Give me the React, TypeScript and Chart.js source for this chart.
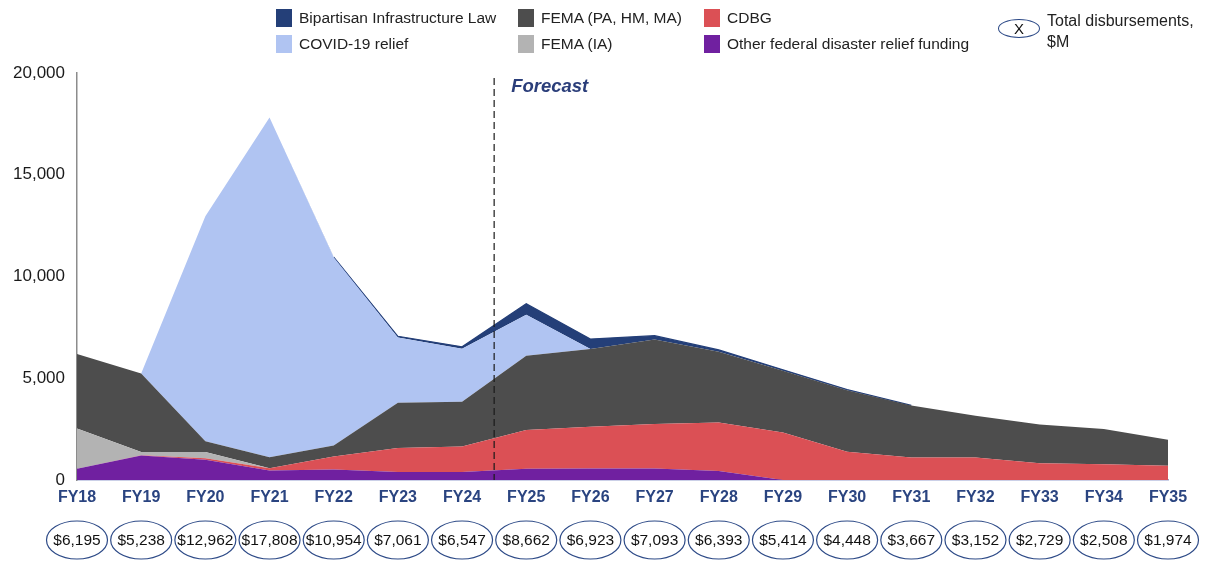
import React, { useEffect, useRef } from "react";
import { Chart, registerables } from "chart.js";

Chart.register(...registerables);

// Fiscal years on the x axis
const years = [
  "FY18", "FY19", "FY20", "FY21", "FY22", "FY23", "FY24", "FY25", "FY26",
  "FY27", "FY28", "FY29", "FY30", "FY31", "FY32", "FY33", "FY34", "FY35",
];

// Disbursements by source, $M (stacked bottom to top)
const otherFederal = [550, 1200, 1000, 470, 520, 390, 390, 550, 560, 560, 440, 0, 0, 0, 0, 0, 0, 0];
const cdbg = [0, 20, 70, 110, 630, 1180, 1260, 1910, 2060, 2190, 2380, 2330, 1390, 1110, 1100, 820, 770, 700];
const femaIA = [1980, 150, 300, 0, 0, 0, 0, 0, 0, 0, 0, 0, 0, 0, 0, 0, 0, 0];
const femaPA = [3665, 3868, 540, 540, 550, 2230, 2200, 3650, 3820, 4160, 3480, 3040, 3020, 2547, 2052, 1909, 1738, 1274];
const covidRelief = [0, 0, 11052, 16688, 9244, 3201, 2597, 2012, 0, 0, 0, 0, 0, 0, 0, 0, 0, 0];
const bipartisanInfra = [0, 0, 0, 0, 10, 60, 100, 540, 483, 183, 93, 44, 38, 10, 0, 0, 0, 0];

// Total disbursements per year, $M
const totals = [6195, 5238, 12962, 17808, 10954, 7061, 6547, 8662, 6923, 7093, 6393, 5414, 4448, 3667, 3152, 2729, 2508, 1974];

const yTicks = [0, 5000, 10000, 15000, 20000];
const forecastStartIndex = 7;

const FONT = "'Liberation Sans', Arial, Helvetica, sans-serif";
const NAVY = "#243f78";
const C_BIL = "#243f78";
const C_FEMA_PA = "#4d4d4d";
const C_CDBG = "#db5055";
const C_COVID = "#b0c4f2";
const C_FEMA_IA = "#b3b3b3";
const C_OTHER = "#7020a0";

const fmt = (v: number) => String(v).replace(/\B(?=(\d{3})+(?!\d))/g, ",");

const legendItems = [
  { label: "Bipartisan Infrastructure Law", color: C_BIL, x: 276, row: 0 },
  { label: "FEMA (PA, HM, MA)", color: C_FEMA_PA, x: 518, row: 0 },
  { label: "CDBG", color: C_CDBG, x: 704, row: 0 },
  { label: "COVID-19 relief", color: C_COVID, x: 276, row: 1 },
  { label: "FEMA (IA)", color: C_FEMA_IA, x: 518, row: 1 },
  { label: "Other federal disaster relief funding", color: C_OTHER, x: 704, row: 1 },
];

const overlayPlugin = {
  id: "totalsAndForecast",
  afterDraw(chart: any) {
    const { ctx, scales } = chart;
    const xs = scales.x;
    const ys = scales.y;
    ctx.save();

    // Forecast divider halfway between FY24 and FY25
    const xDiv = (xs.getPixelForValue(forecastStartIndex - 1) + xs.getPixelForValue(forecastStartIndex)) / 2;
    ctx.strokeStyle = "#1a1a1a";
    ctx.lineWidth = 1.2;
    ctx.setLineDash([7, 4]);
    ctx.beginPath();
    ctx.moveTo(xDiv, ys.top + 5);
    ctx.lineTo(xDiv, ys.bottom);
    ctx.stroke();
    ctx.setLineDash([]);

    ctx.fillStyle = "#2b3e7a";
    ctx.font = `italic bold 18.5px ${FONT}`;
    ctx.textAlign = "left";
    ctx.textBaseline = "middle";
    ctx.fillText("Forecast", xDiv + 17, ys.top + 14);

    // Total disbursement bubbles under each year
    ctx.font = `15.5px ${FONT}`;
    ctx.textAlign = "center";
    totals.forEach((t, i) => {
      const cx = xs.getPixelForValue(i);
      const cy = 540;
      ctx.beginPath();
      ctx.ellipse(cx, cy, 30.5, 19, 0, 0, Math.PI * 2);
      ctx.strokeStyle = "#2d4a87";
      ctx.lineWidth = 1.2;
      ctx.stroke();
      ctx.fillStyle = "#111";
      ctx.fillText("$" + fmt(t), cx, cy + 1);
    });
    ctx.restore();
  },
};

export default function App() {
  const canvasRef = useRef<HTMLCanvasElement | null>(null);

  useEffect(() => {
    if (!canvasRef.current) return;
    const area = (label: string, data: number[], color: string, fill: any, extra: any = {}) => ({
      label,
      data,
      backgroundColor: color,
      borderColor: color,
      borderWidth: 0,
      pointRadius: 0,
      tension: 0,
      fill,
      ...extra,
    });

    const chart = new Chart(canvasRef.current, {
      type: "line",
      data: {
        labels: years,
        datasets: [
          area("Other federal disaster relief funding", otherFederal, C_OTHER, "origin"),
          area("CDBG", cdbg, C_CDBG, "-1"),
          area("FEMA (IA)", femaIA, C_FEMA_IA, "-1"),
          area("FEMA (PA, HM, MA)", femaPA, C_FEMA_PA, "-1"),
          area("COVID-19 relief", covidRelief, C_COVID, "-1"),
          area("Bipartisan Infrastructure Law", bipartisanInfra, C_BIL, "-1", {
            borderWidth: 1.2,
            segment: {
              borderColor: (c: any) =>
                bipartisanInfra[c.p0DataIndex] > 0 && bipartisanInfra[c.p1DataIndex] > 0
                  ? NAVY
                  : "rgba(0,0,0,0)",
            },
          }),
        ],
      },
      options: {
        responsive: false,
        animation: false,
        layout: { padding: { top: 73, right: 38, bottom: 0, left: 0 } },
        plugins: {
          legend: { display: false },
          tooltip: { enabled: false },
        },
        scales: {
          x: {
            type: "category",
            offset: false,
            grid: { display: false, drawTicks: false },
            border: { display: true, color: "#98a2d0", width: 1.5 },
            ticks: {
              color: "#2a4480",
              font: { family: FONT, size: 16, weight: "bold" },
              padding: 8,
              maxRotation: 0,
              autoSkip: false,
            },
            afterFit: (s: any) => {
              s.height = 81;
            },
          },
          y: {
            stacked: true,
            min: 0,
            max: 20000,
            grid: { display: false, drawTicks: false },
            border: { display: true, color: "#8c8c8c", width: 1.5 },
            afterBuildTicks: (s: any) => {
              s.ticks = yTicks.map((v) => ({ value: v }));
            },
            ticks: {
              color: "#1a1a1a",
              font: { family: FONT, size: 17 },
              padding: 12,
              callback: (v: any) => fmt(Number(v)),
            },
            afterFit: (s: any) => {
              s.width = 77;
            },
          },
        },
      },
      plugins: [overlayPlugin],
    } as any);
    return () => chart.destroy();
  }, []);

  return (
    <div
      style={{
        position: "absolute",
        left: 0,
        top: 0,
        width: 1206,
        height: 561,
        background: "#fff",
        fontFamily: FONT,
        overflow: "hidden",
      }}
    >
      <canvas ref={canvasRef} width={1206} height={561} style={{ position: "absolute", left: 0, top: 0 }} />
      {legendItems.map((it) => (
        <div
          key={it.label}
          style={{
            position: "absolute",
            left: it.x,
            top: it.row === 0 ? 9 : 35,
            height: 18,
            display: "flex",
            alignItems: "center",
            fontSize: 15.5,
            color: "#222",
            whiteSpace: "nowrap",
          }}
        >
          <span style={{ display: "inline-block", width: 16, height: 18, background: it.color, marginRight: 7 }} />
          <span>{it.label}</span>
        </div>
      ))}
      <div
        style={{
          position: "absolute",
          left: 998,
          top: 19,
          width: 42,
          height: 19,
          border: "1.3px solid #2d4a87",
          borderRadius: "50%",
          display: "flex",
          alignItems: "center",
          justifyContent: "center",
          fontSize: 15,
          color: "#111",
          boxSizing: "border-box",
        }}
      >
        X
      </div>
      <div
        style={{
          position: "absolute",
          left: 1047,
          top: 10,
          fontSize: 16,
          lineHeight: "21px",
          color: "#222",
        }}
      >
        Total disbursements,
        <br />
        $M
      </div>
    </div>
  );
}
